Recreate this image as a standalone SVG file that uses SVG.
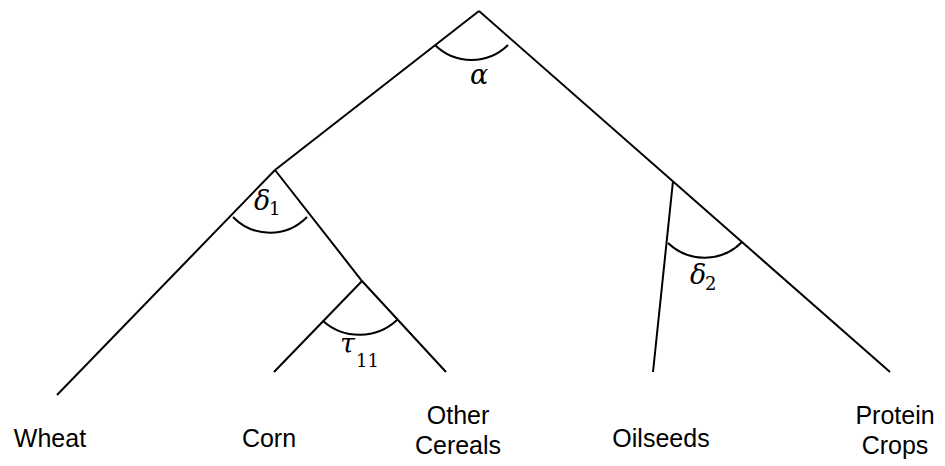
<svg xmlns="http://www.w3.org/2000/svg" width="945" height="466" viewBox="0 0 945 466">
<style>
.ln{stroke:#000;stroke-width:2;fill:none;stroke-linecap:butt}
.arc{stroke:#000;stroke-width:2;fill:none}
.lbl{font-family:"Liberation Sans","Open Sans",sans-serif;font-size:25px;fill:#000;text-anchor:middle}
.gk{font-family:"DejaVu Serif","Liberation Serif",serif;font-style:italic;font-size:27px;fill:#000}
.sub{font-family:"DejaVu Serif","Liberation Serif",serif;font-size:18px;fill:#000}
</style>
<rect width="945" height="466" fill="#fff"/>
<g id="connectors">
<line class="ln" x1="479" y1="11" x2="275" y2="170"/>
<line class="ln" x1="479" y1="11" x2="890" y2="372"/>
<line class="ln" x1="275" y1="170" x2="57" y2="395"/>
<polyline class="ln" points="275,170 362,281 446,372"/>
<line class="ln" x1="362" y1="281" x2="274" y2="372"/>
<line class="ln" x1="673" y1="181" x2="653" y2="372"/>
</g>
<g id="alpha">
<path class="arc" d="M435,45 A52,52 0 0 0 508,45"/>
<text class="gk" x="470" y="84">α</text>
</g>
<g id="delta1">
<path class="arc" d="M233,217 A51.5,51.5 0 0 0 307,217"/>
<text class="gk" x="254" y="210">δ</text>
<text class="sub" x="269" y="215">1</text>
</g>
<g id="tau11">
<path class="arc" d="M323,321 A55,55 0 0 0 397,320"/>
<text class="gk" x="340" y="353">τ</text>
<text class="sub" x="356" y="367">11</text>
</g>
<g id="delta2">
<path class="arc" d="M668,243 A52.7,52.7 0 0 0 742,242"/>
<text class="gk" x="690" y="284">δ</text>
<text class="sub" x="705" y="290">2</text>
</g>
<g id="wheat"><text class="lbl" x="50" y="447">Wheat</text></g>
<g id="corn"><text class="lbl" x="269" y="447">Corn</text></g>
<g id="other-cereals"><text class="lbl" x="458" y="424"><tspan x="458">Other</tspan><tspan x="458" dy="30">Cereals</tspan></text></g>
<g id="oilseeds"><text class="lbl" x="661" y="447">Oilseeds</text></g>
<g id="protein-crops"><text class="lbl" x="895" y="424"><tspan x="895">Protein</tspan><tspan x="895" dy="30">Crops</tspan></text></g>
</svg>
